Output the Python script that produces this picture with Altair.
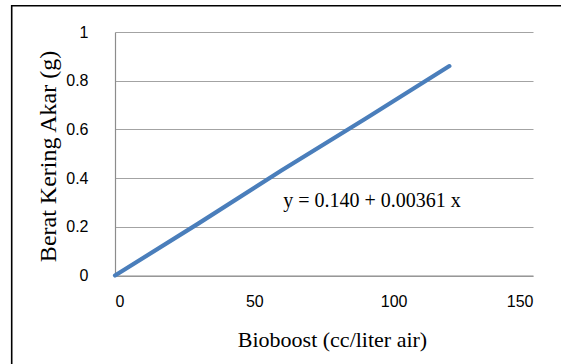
import altair as alt
import pandas as pd

# data
dose = [0, 30, 60, 90, 120]
root_dry_weight = [0.0, 0.214, 0.433, 0.645, 0.86]

eq_text = ["y = 0.140 + 0.00361 x"]
eq_x = [60.4]
eq_y = [0.306]

x_ticks = [0, 50, 100, 150]
y_ticks = [0, 0.2, 0.4, 0.6, 0.8, 1]

df = pd.DataFrame({"dose": dose, "w": root_dry_weight})
df_eq = pd.DataFrame({"t": eq_text, "x": eq_x, "y": eq_y})
df_box = pd.DataFrame({"a": [0]})

xscale = alt.Scale(domain=[0, 150], nice=False, zero=False)
yscale = alt.Scale(domain=[0, 1], nice=False)

line = alt.Chart(df).mark_line(
    color="#4A7EBB", strokeWidth=4.2, strokeCap="round", strokeJoin="round"
).encode(
    x=alt.X("dose:Q", scale=xscale, axis=alt.Axis(
        values=x_ticks, title="Bioboost (cc/liter air)", grid=False,
        ticks=False, domainColor="#8c8c8c", domainWidth=1.2,
        labelFont="Liberation Sans", labelFontSize=16, labelColor="#000000",
        labelPadding=26, labelBaseline="middle",
        titleFont="Liberation Serif", titleFontSize=22, titleFontWeight="normal",
        titleColor="#000000", titleBaseline="alphabetic", titleY=71, titleX=217,
    )),
    y=alt.Y("w:Q", scale=yscale, axis=alt.Axis(
        values=y_ticks, format="~g", title="Berat Kering Akar (g)",
        grid=True, gridColor="#a3a3a3", gridWidth=1.2,
        ticks=False, domainColor="#8c8c8c", domainWidth=1.2,
        labelFont="Liberation Sans", labelFontSize=16, labelColor="#000000",
        labelPadding=27,
        titleFont="Liberation Serif", titleFontSize=24, titleFontWeight="normal",
        titleColor="#000000", titleBaseline="alphabetic", titleX=-60, titleY=124,
    )),
)

eq = alt.Chart(df_eq).mark_text(
    font="Liberation Serif", fontSize=20, align="left", baseline="middle", color="#000000"
).encode(
    x=alt.X("x:Q", scale=xscale),
    y=alt.Y("y:Q", scale=yscale),
    text="t:N",
)

box = alt.Chart(df_box).mark_rect(
    fill="transparent", stroke="#000000", strokeWidth=1.6
).encode(
    x=alt.value(-103.3), x2=alt.value(520),
    y=alt.value(-26.3), y2=alt.value(380),
)

chart = alt.layer(box, line, eq).properties(
    width=418, height=243.5,
    autosize=alt.AutoSizeParams(type="none"),
    padding={"left": 115, "top": 32, "right": 28, "bottom": 88.5},
    background="white",
).configure_view(strokeWidth=0)

chart.save("out.html", embed_options={"renderer": "svg", "actions": False})
